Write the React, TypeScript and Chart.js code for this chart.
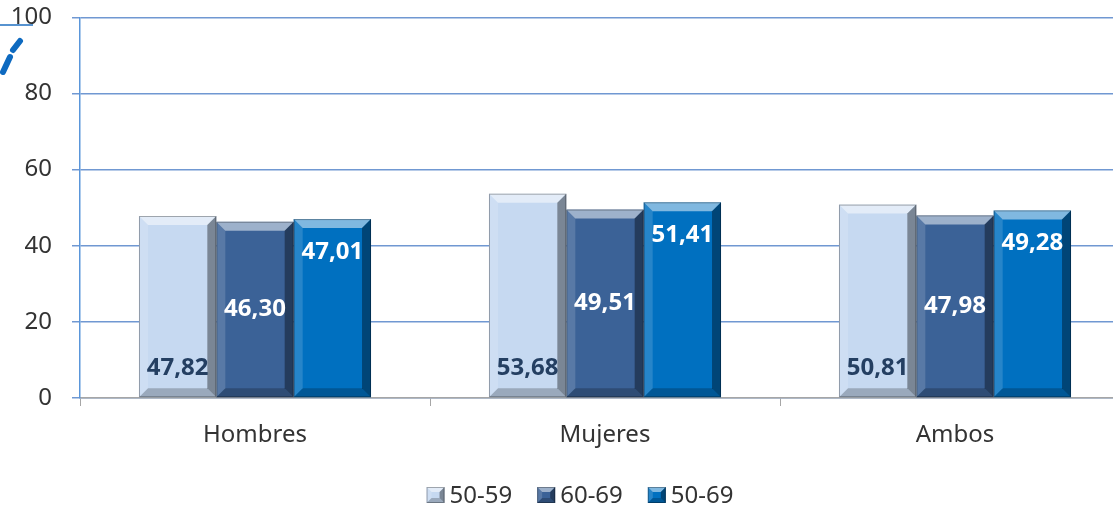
import React, { useEffect, useRef } from "react";
import { Chart, registerables } from "chart.js";

Chart.register(...registerables);

const categories = ["Hombres", "Mujeres", "Ambos"];
const seriesNames = ["50-59", "60-69", "50-69"];
const values5059 = [47.82, 53.68, 50.81];
const values6069 = [46.3, 49.51, 47.98];
const values5069 = [47.01, 51.41, 49.28];
const yMin = 0;
const yMax = 100;
const yStep = 20;

const seriesColors = ["#C6D9F1", "#3B6297", "#0070C0"];
const labelColors = ["#243F62", "#FFFFFF", "#FFFFFF"];
const labelModes = ["bottom", "center", "top"];
const FONT = "'Noto Sans', sans-serif";
const SHIFT = 17; // canvas is shifted up by this many px

function poly(ctx: CanvasRenderingContext2D, pts: number[][], fill: string) {
  ctx.beginPath();
  ctx.moveTo(pts[0][0], pts[0][1]);
  for (let i = 1; i < pts.length; i++) ctx.lineTo(pts[i][0], pts[i][1]);
  ctx.closePath();
  ctx.fillStyle = fill;
  ctx.fill();
}

function bevelRect(ctx: CanvasRenderingContext2D, l: number, t: number, r: number, b: number, s: number) {
  poly(ctx, [[l, t], [r, t], [r - s, t + s], [l + s, t + s]], "rgba(255,255,255,0.5)");
  poly(ctx, [[l, t], [l + s, t + s], [l + s, b - s], [l, b]], "rgba(255,255,255,0.15)");
  poly(ctx, [[r, t], [r, b], [r - s, b - s], [r - s, t + s]], "rgba(0,0,0,0.38)");
  poly(ctx, [[l, b], [l + s, b - s], [r - s, b - s], [r, b]], "rgba(0,0,0,0.22)");
  ctx.strokeStyle = "rgba(0,0,0,0.3)";
  ctx.lineWidth = 1;
  ctx.strokeRect(l + 0.5, t + 0.5, r - l - 1, b - t - 1);
}

const bevelPlugin = {
  id: "bevelLabels",
  afterDatasetsDraw(chart: any) {
    const ctx: CanvasRenderingContext2D = chart.ctx;
    ctx.save();
    chart.data.datasets.forEach((ds: any, di: number) => {
      const meta = chart.getDatasetMeta(di);
      meta.data.forEach((bar: any, i: number) => {
        const p = bar.getProps(["x", "y", "base", "width"], true);
        const l = p.x - p.width / 2;
        const r = p.x + p.width / 2;
        bevelRect(ctx, l, p.y, r, p.base, 9);
        const v = ds.data[i] as number;
        const txt = v.toFixed(2).replace(".", ",");
        let ty = (p.y + p.base) / 2;
        if (labelModes[di] === "bottom") ty = p.base - 29;
        if (labelModes[di] === "top") ty = p.y + 33;
        ctx.font = `bold 24px ${FONT}`;
        ctx.fillStyle = labelColors[di];
        ctx.textAlign = "center";
        ctx.textBaseline = "middle";
        ctx.fillText(txt, p.x, ty);
      });
    });
    ctx.restore();
  },
  afterDraw(chart: any) {
    const ctx: CanvasRenderingContext2D = chart.ctx;
    ctx.save();
    // legend
    ctx.font = `24px ${FONT}`;
    const bw = 18;
    const bh = 16;
    const gap = 5;
    const spacing = 25;
    const widths = seriesNames.map((n) => ctx.measureText(n).width);
    const total = widths.reduce((a, w) => a + bw + gap + w, 0) + spacing * (seriesNames.length - 1);
    let x = 580 - total / 2;
    const cy = 495 + SHIFT;
    seriesNames.forEach((n, i) => {
      ctx.fillStyle = seriesColors[i];
      ctx.fillRect(x, cy - bh / 2, bw, bh);
      bevelRect(ctx, x, cy - bh / 2, x + bw, cy + bh / 2, 5);
      ctx.fillStyle = "#333333";
      ctx.textAlign = "left";
      ctx.textBaseline = "middle";
      ctx.fillText(n, x + bw + gap, cy + 1);
      x += bw + gap + widths[i] + spacing;
    });
    // top-left stray mark
    ctx.strokeStyle = "#1F6FC0";
    ctx.lineWidth = 1.5;
    ctx.beginPath();
    ctx.moveTo(0, 25 + SHIFT);
    ctx.lineTo(33, 25 + SHIFT);
    ctx.stroke();
    ctx.strokeStyle = "#0E6AC0";
    ctx.lineWidth = 6;
    ctx.lineCap = "round";
    ctx.beginPath();
    ctx.moveTo(20, 41 + SHIFT);
    ctx.lineTo(13, 50 + SHIFT);
    ctx.stroke();
    ctx.beginPath();
    ctx.moveTo(10, 57 + SHIFT);
    ctx.lineTo(3, 72 + SHIFT);
    ctx.stroke();
    ctx.restore();
  },
};

export default function App() {
  const ref = useRef<HTMLCanvasElement>(null);
  useEffect(() => {
    const data = [values5059, values6069, values5069];
    const chart = new Chart(ref.current as HTMLCanvasElement, {
      type: "bar",
      data: {
        labels: categories,
        datasets: seriesNames.map((name, i) => ({
          label: name,
          data: data[i],
          backgroundColor: seriesColors[i],
          borderWidth: 0,
          categoryPercentage: 0.663,
          barPercentage: 1,
        })),
      },
      options: {
        animation: false,
        responsive: true,
        maintainAspectRatio: false,
        layout: { padding: { left: 0, top: 0, right: 2, bottom: 48 } },
        plugins: { legend: { display: false }, tooltip: { enabled: false } },
        scales: {
          x: {
            afterFit: (s: any) => {
              s.height = 62;
            },
            grid: {
              display: true,
              drawOnChartArea: false,
              offset: true,
              color: "#A6A6A6",
              tickLength: 8,
            },
            border: { color: "#A6A6A6", width: 1.5 },
            ticks: { color: "#333333", font: { family: FONT, size: 24 }, padding: 15 },
          },
          y: {
            min: yMin,
            max: yMax,
            afterFit: (s: any) => {
              s.width = 80;
            },
            grid: { color: "#7098D2", tickLength: 8, lineWidth: 1.5 },
            border: { color: "#5A96DA", width: 1.5 },
            ticks: { stepSize: yStep, color: "#333333", font: { family: FONT, size: 24 }, padding: 20 },
          },
        },
      },
      plugins: [bevelPlugin],
    } as any);
    return () => chart.destroy();
  }, []);
  return (
    <div
      style={{
        position: "fixed",
        left: 0,
        top: 0,
        width: 1113,
        height: 508,
        overflow: "hidden",
        background: "#ffffff",
      }}
    >
      <div style={{ position: "relative", top: -SHIFT, width: 1132, height: 508 + SHIFT }}>
        <canvas ref={ref} />
      </div>
    </div>
  );
}
